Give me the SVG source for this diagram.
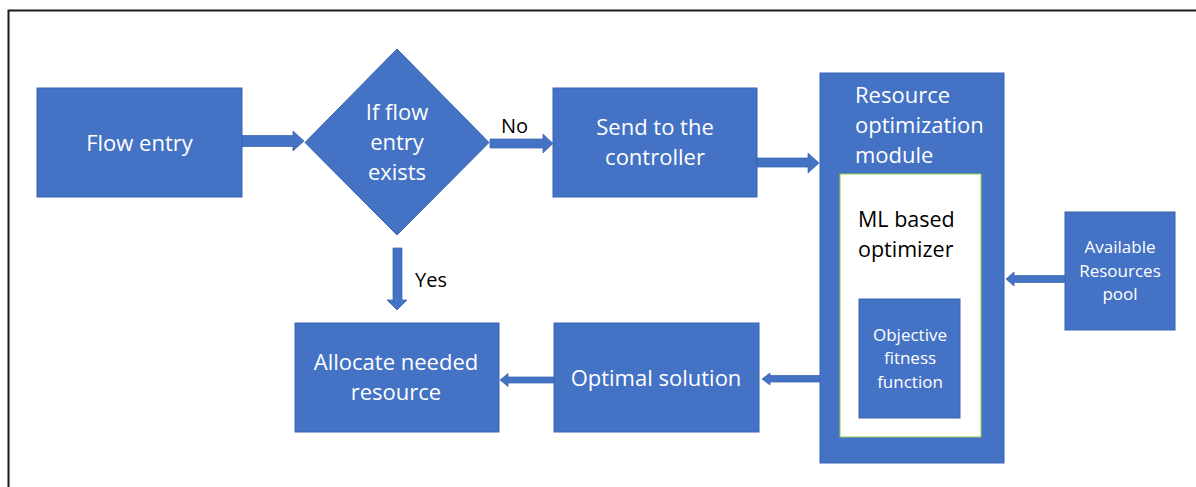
<svg xmlns="http://www.w3.org/2000/svg" width="1196" height="487" viewBox="0 0 1196 487">
<style>
.box{fill:#4472C4;stroke:#3A65B0;stroke-width:1}
.arr{fill:#4472C4;stroke:#3A65B0;stroke-width:0.75}
.t{font-family:"Open Sans","Noto Sans",sans-serif;font-size:22px;fill:#ffffff;text-anchor:middle}
.tl{font-family:"Open Sans","Noto Sans",sans-serif;font-size:22px;fill:#ffffff;text-anchor:start}
.ts{font-family:"Open Sans","Noto Sans",sans-serif;font-size:17px;fill:#ffffff;text-anchor:middle}
.tb{font-family:"Open Sans","Noto Sans",sans-serif;font-size:20px;fill:#000000}
.tm{font-family:"Open Sans","Noto Sans",sans-serif;font-size:21.5px;fill:#000000}
</style>
<rect x="0" y="0" width="1196" height="487" fill="#ffffff"/>
<path d="M8.5,487 V10.5 H1196" fill="none" stroke="#1a1a1a" stroke-width="2"/>
<g id="connectors">
<polygon class="arr" points="242,135.5 293,135.5 293,131 304,141 293,151 293,146.5 242,146.5"/>
<polygon class="arr" points="490,139 543,139 543,134 553,143.5 543,153 543,148 490,148"/>
<polygon class="arr" points="757,158 808,158 808,153 819,163 808,173 808,167 757,167"/>
<polygon class="arr" points="393,248 402,248 402,300 407,300 397,310 387,300 393,300"/>
<polygon class="arr" points="1066,275.5 1014,275.5 1014,272 1006,279 1014,286 1014,282.5 1066,282.5"/>
<polygon class="arr" points="823,375.5 770,375.5 770,373 762,379 770,385 770,382 823,382"/>
<polygon class="arr" points="562,377 508,377 508,373.5 500,380 508,386.5 508,383 562,383"/>
<text class="tb" x="501" y="133">No</text>
<text class="tb" x="415" y="287">Yes</text>
</g>
<g id="flow-entry">
<rect class="box" x="37" y="88" width="205" height="109"/>
<text class="t" x="139.5" y="151">Flow entry</text>
</g>
<g id="decision">
<polygon class="box" points="397,49 489,142.5 397,235 305,142.5"/>
<text class="t" x="397" y="120">If flow</text>
<text class="t" x="397" y="150">entry</text>
<text class="t" x="397" y="180">exists</text>
</g>
<g id="send-controller">
<rect class="box" x="553" y="88" width="204" height="109"/>
<text class="t" x="655" y="135">Send to the</text>
<text class="t" x="655" y="165">controller</text>
</g>
<g id="resource-module">
<rect class="box" x="820" y="73" width="184" height="390"/>
<text class="tl" x="855" y="103">Resource</text>
<text class="tl" x="855" y="133">optimization</text>
<text class="tl" x="855" y="163">module</text>
</g>
<g id="ml-optimizer">
<rect x="840" y="174" width="141" height="263" fill="#ffffff" stroke="#92D050" stroke-width="1"/>
<text class="tm" x="858" y="227">ML based</text>
<text class="tm" x="858" y="257">optimizer</text>
</g>
<g id="objective-function">
<rect class="box" x="859" y="299" width="101" height="119"/>
<text class="ts" x="910" y="341">Objective</text>
<text class="ts" x="910" y="364">fitness</text>
<text class="ts" x="910" y="388">function</text>
</g>
<g id="resources-pool">
<rect class="box" x="1065" y="212" width="110" height="118"/>
<text class="ts" x="1120" y="253">Available</text>
<text class="ts" x="1120" y="277">Resources</text>
<text class="ts" x="1120" y="300">pool</text>
</g>
<g id="allocate">
<rect class="box" x="295" y="323" width="204" height="109"/>
<text class="t" x="396" y="370">Allocate needed</text>
<text class="t" x="396" y="400">resource</text>
</g>
<g id="optimal-solution">
<rect class="box" x="554" y="323" width="205" height="109"/>
<text class="t" x="656" y="386">Optimal solution</text>
</g>
</svg>
